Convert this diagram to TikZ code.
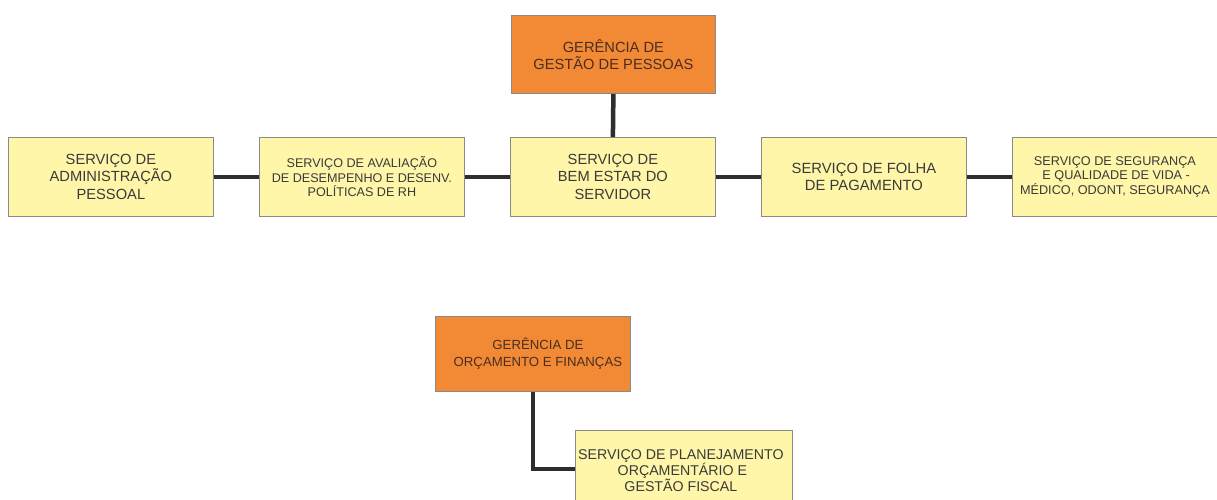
\documentclass[tikz,border=0pt]{standalone}
\usepackage{fontspec}
\setmainfont{Liberation Sans}
\definecolor{orangefill}{HTML}{F28934}
\definecolor{yellowfill}{HTML}{FFF6A9}
\definecolor{boxline}{HTML}{8A8A8A}
\definecolor{conn}{HTML}{2E2E2E}
\definecolor{txt}{HTML}{3A3A3A}
\definecolor{txtor}{HTML}{4A2E22}
\begin{document}
\begin{tikzpicture}[x=1pt,y=-1pt,
  base/.style={draw=boxline, line width=0.8pt, align=center, inner sep=0pt, anchor=north west},
  ger/.style={base, fill=orangefill, text=txtor},
  srv/.style={base, fill=yellowfill, text=txt},
  link/.style={draw=conn, line width=4.5pt}]
\clip (0,0) rectangle (1217,499);
\fill[white] (0,0) rectangle (1217,499);
% top
\node[ger, minimum width=204pt, minimum height=78pt, font=\fontsize{14.7}{16.5}\selectfont] (g1) at (511,15) {GERÊNCIA DE\\GESTÃO DE PESSOAS};
\node[srv, minimum width=205pt, minimum height=79pt, font=\fontsize{14.7}{17.5}\selectfont] (s1) at (8,137) {SERVIÇO DE\\ADMINISTRAÇÃO\\PESSOAL};
\node[srv, minimum width=205pt, minimum height=79pt, font=\fontsize{12.6}{14.5}\selectfont] (s2) at (259,137) {SERVIÇO DE AVALIAÇÃO\\DE DESEMPENHO E DESENV.\\POLÍTICAS DE RH};
\node[srv, minimum width=205pt, minimum height=79pt, font=\fontsize{14.7}{17.5}\selectfont] (s3) at (510,137) {SERVIÇO DE\\BEM ESTAR DO\\SERVIDOR};
\node[srv, minimum width=205pt, minimum height=79pt, font=\fontsize{14.8}{17}\selectfont] (s4) at (761,137) {SERVIÇO DE FOLHA\\DE PAGAMENTO};
\node[srv, minimum width=210pt, minimum height=79pt, font=\fontsize{12.7}{14.5}\selectfont] (s5) at (1012,137) {\hspace*{-2.5pt}SERVIÇO DE SEGURANÇA\hspace*{2.5pt}\\\hspace*{-2.5pt}E QUALIDADE DE VIDA -\hspace*{2.5pt}\\\hspace*{-2.5pt}MÉDICO, ODONT, SEGURANÇA\hspace*{2.5pt}};
\draw[link] (g1.south) -- (s3.north);
\draw[link] (s1.east) -- (s2.west);
\draw[link] (s2.east) -- (s3.west);
\draw[link] (s3.east) -- (s4.west);
\draw[link] (s4.east) -- (s5.west);
% bottom
\node[ger, minimum width=195pt, minimum height=75pt, font=\fontsize{13.2}{17}\selectfont] (g2) at (435,316) {\hspace*{5pt}GERÊNCIA DE\hspace*{-5pt}\\\hspace*{5pt}ORÇAMENTO E FINANÇAS\hspace*{-5pt}};
\node[srv, minimum width=217pt, minimum height=80pt, font=\fontsize{14.2}{16}\selectfont] (p1) at (575,430) {\hspace*{-3pt}SERVIÇO DE PLANEJAMENTO\hspace*{3pt}\\\hspace*{-3pt}ORÇAMENTÁRIO E\hspace*{3pt}\\\hspace*{-3pt}GESTÃO FISCAL\hspace*{3pt}};
\coordinate (bend) at (533,469);
\draw[link] (g2.south -| bend) -- (bend) -- (bend -| p1.west);
\end{tikzpicture}
\end{document}
